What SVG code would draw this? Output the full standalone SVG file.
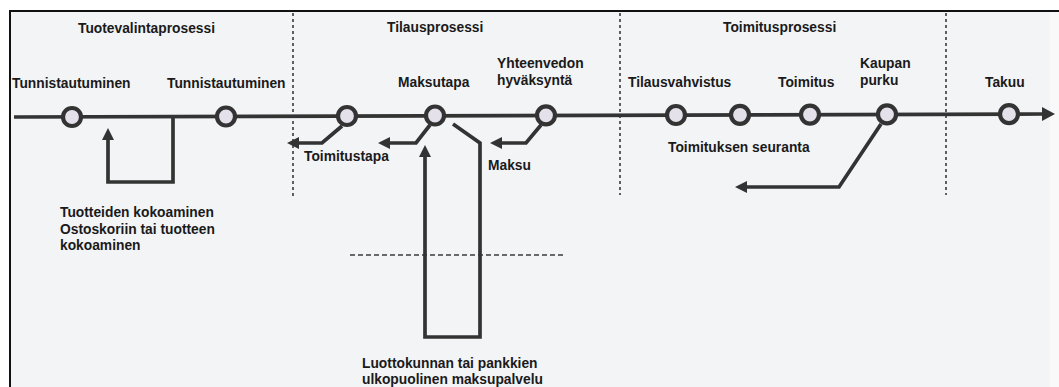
<svg xmlns="http://www.w3.org/2000/svg" width="1059" height="387" viewBox="0 0 1059 387">
<style>
.t{font-family:"Liberation Sans",Arial,sans-serif;font-weight:bold;font-size:13.8px;fill:#1a1a1a}
.ln{fill:none;stroke:#333;stroke-width:3.7;stroke-linejoin:miter}
.nd{fill:#e4e1ea;stroke:#333;stroke-width:4.2}
.dv{stroke:#3a3a3a;stroke-width:1.6;stroke-dasharray:3 3;fill:none}
.dh{stroke:#3a3a3a;stroke-width:1.4;stroke-dasharray:5 3;fill:none}
</style>
<defs>
<marker id="ah" markerUnits="userSpaceOnUse" viewBox="0 0 12 12" markerWidth="12" markerHeight="12" refX="1" refY="6" orient="auto">
<path d="M0,0 L12,6 L0,12 z" fill="#333"/>
</marker>
<marker id="am" markerUnits="userSpaceOnUse" viewBox="0 0 13 14" markerWidth="13" markerHeight="14" refX="1" refY="7" orient="auto">
<path d="M0,0 L13,7 L0,14 z" fill="#333"/>
</marker>
</defs>
<rect x="0" y="0" width="1059" height="387" fill="#ffffff"/>
<rect x="10" y="11" width="1049" height="376" fill="#f2f4f6"/>
<rect x="1050" y="11" width="9" height="376" fill="#f9f9fa"/>
<path d="M10,387 V11 H1059" fill="none" stroke="#111" stroke-width="2"/>

<g id="dividers">
<line class="dv" x1="293" y1="13" x2="293" y2="197"/>
<line class="dv" x1="620" y1="13" x2="620" y2="195"/>
<line class="dv" x1="946" y1="13" x2="946" y2="195"/>
<line class="dh" x1="350" y1="255" x2="566" y2="255"/>
</g>

<g id="connectors">
<path class="ln" d="M14,117 L1043,114" marker-end="url(#am)"/>
<path class="ln" d="M173,117 V182 H108 V139" marker-end="url(#ah)"/>
<path class="ln" d="M342,126 L322,143 H298" marker-end="url(#ah)"/>
<path class="ln" d="M430,125 L416,143 H389" marker-end="url(#ah)"/>
<path class="ln" d="M453,124 L480,143 V337 H425 V156" marker-end="url(#ah)"/>
<path class="ln" d="M541,125 L526,143 H501" marker-end="url(#ah)"/>
<path class="ln" d="M881,124 L839,187 H746" marker-end="url(#ah)"/>
</g>

<g id="phase-labels">
<text class="t" x="78" y="33">Tuotevalintaprosessi</text>
<text class="t" x="387" y="32">Tilausprosessi</text>
<text class="t" x="723" y="32">Toimitusprosessi</text>
</g>

<g id="n1"><circle class="nd" cx="72" cy="117" r="9"/><text class="t" x="12" y="88">Tunnistautuminen</text></g>
<g id="n2"><circle class="nd" cx="226" cy="116.5" r="9"/><text class="t" x="167" y="88">Tunnistautuminen</text></g>
<g id="n3"><circle class="nd" cx="347" cy="116" r="9"/></g>
<g id="n4"><circle class="nd" cx="435" cy="115.5" r="9"/><text class="t" x="398" y="87">Maksutapa</text></g>
<g id="n5"><circle class="nd" cx="546" cy="115.3" r="9"/><text class="t" x="497" y="68">Yhteenvedon</text><text class="t" x="497" y="85">hyväksyntä</text></g>
<g id="n6"><circle class="nd" cx="676" cy="115" r="9"/><text class="t" x="628" y="87">Tilausvahvistus</text></g>
<g id="n7"><circle class="nd" cx="740" cy="114.8" r="9"/></g>
<g id="n8"><circle class="nd" cx="810" cy="114.6" r="9"/><text class="t" x="778" y="87">Toimitus</text></g>
<g id="n9"><circle class="nd" cx="887" cy="114.4" r="9"/><text class="t" x="860" y="68">Kaupan</text><text class="t" x="860" y="85">purku</text></g>
<g id="n10"><circle class="nd" cx="1009" cy="114.1" r="9"/><text class="t" x="985" y="87">Takuu</text></g>

<g id="branch-labels">
<text class="t" x="304" y="161">Toimitustapa</text>
<text class="t" x="488" y="170">Maksu</text>
<text class="t" x="668" y="152">Toimituksen seuranta</text>
<text class="t" x="60" y="217">Tuotteiden kokoaminen</text>
<text class="t" x="60" y="234">Ostoskoriin tai tuotteen</text>
<text class="t" x="60" y="250">kokoaminen</text>
<text class="t" x="362" y="368">Luottokunnan tai pankkien</text>
<text class="t" x="362" y="384">ulkopuolinen maksupalvelu</text>
</g>
</svg>
